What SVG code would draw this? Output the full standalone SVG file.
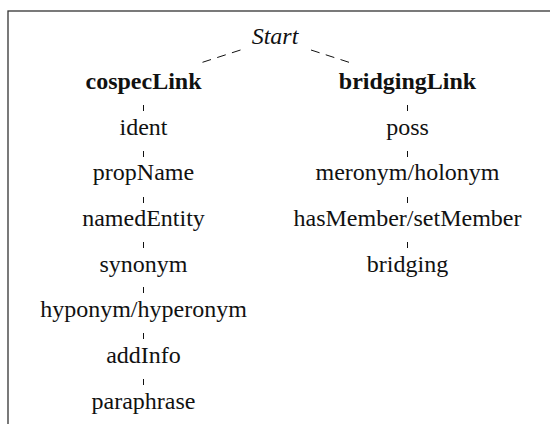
<svg xmlns="http://www.w3.org/2000/svg" width="550" height="424" viewBox="0 0 550 424">
  <style>
    text { font-family: 'Liberation Serif', 'DejaVu Serif', serif; font-size: 24px; fill: #111; text-anchor: middle; }
    .root { font-style: italic; }
    .head { font-weight: bold; }
    .edge { stroke: #111; stroke-width: 1; fill: none; }
    .dash { stroke-dasharray: 9 6.5; }
  </style>
  <rect width="550" height="424" fill="#fff"/>
  <!-- frame: open on the right and bottom -->
  <rect x="8" y="11" width="560" height="430" fill="none" stroke="#333" stroke-width="1.3"/>

  <g id="connectors">
    <line class="edge dash" x1="240.5" y1="50" x2="202.5" y2="62.3"/>
    <line class="edge dash" x1="311" y1="50" x2="349" y2="62.3"/>
    <!-- cospecLink column -->
    <line class="edge" x1="143.5" y1="105" x2="143.5" y2="111"/>
    <line class="edge" x1="143.5" y1="151" x2="143.5" y2="157"/>
    <line class="edge" x1="143.5" y1="197" x2="143.5" y2="203"/>
    <line class="edge" x1="143.5" y1="242" x2="143.5" y2="248"/>
    <line class="edge" x1="143.5" y1="287" x2="143.5" y2="293"/>
    <line class="edge" x1="143.5" y1="333" x2="143.5" y2="339"/>
    <line class="edge" x1="143.5" y1="379" x2="143.5" y2="385"/>
    <!-- bridgingLink column -->
    <line class="edge" x1="407.5" y1="105" x2="407.5" y2="111"/>
    <line class="edge" x1="407.5" y1="151" x2="407.5" y2="157"/>
    <line class="edge" x1="407.5" y1="197" x2="407.5" y2="203"/>
    <line class="edge" x1="407.5" y1="242" x2="407.5" y2="248"/>
  </g>

  <g id="start"><text class="root" x="275" y="44" font-family="Liberation Serif">Start</text></g>

  <g id="cospecLink"><text class="head" x="143.5" y="88.5" font-family="Liberation Serif">cospecLink</text></g>
  <g id="ident"><text x="143.5" y="134.5" font-family="Liberation Serif">ident</text></g>
  <g id="propName"><text x="143.5" y="180" font-family="Liberation Serif">propName</text></g>
  <g id="namedEntity"><text x="143.5" y="226" font-family="Liberation Serif">namedEntity</text></g>
  <g id="synonym"><text x="143.5" y="271.5" font-family="Liberation Serif">synonym</text></g>
  <g id="hyponym"><text x="143.5" y="317" font-family="Liberation Serif">hyponym/hyperonym</text></g>
  <g id="addInfo"><text x="143.5" y="363" font-family="Liberation Serif">addInfo</text></g>
  <g id="paraphrase"><text x="143.5" y="408.5" font-family="Liberation Serif">paraphrase</text></g>

  <g id="bridgingLink"><text class="head" x="407.5" y="88.5" font-family="Liberation Serif">bridgingLink</text></g>
  <g id="poss"><text x="407.5" y="134.5" font-family="Liberation Serif">poss</text></g>
  <g id="meronym"><text x="407.5" y="180" font-family="Liberation Serif">meronym/holonym</text></g>
  <g id="hasMember"><text x="407.5" y="226" font-family="Liberation Serif">hasMember/setMember</text></g>
  <g id="bridging"><text x="407.5" y="271.5" font-family="Liberation Serif">bridging</text></g>
</svg>
